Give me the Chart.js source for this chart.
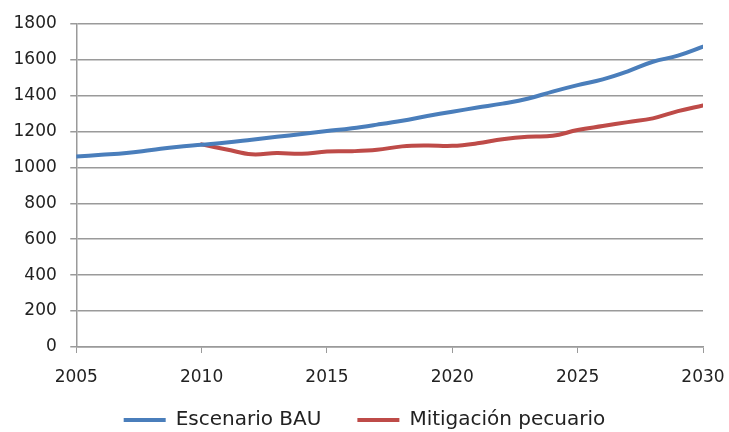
<!DOCTYPE html>
<html>
<head>
<meta charset="utf-8">
<script src="https://cdn.jsdelivr.net/npm/chart.js@4"></script>
<style>
  html, body { margin: 0; padding: 0; background: #fff; }
  #wrap { width: 729px; height: 432px; }
</style>
</head>
<body>
<div id="wrap"><canvas id="chart"></canvas></div>
<script>
const years = [2005, 2006, 2007, 2008, 2009, 2010, 2011, 2012, 2013, 2014, 2015, 2016, 2017,
  2018, 2019, 2020, 2021, 2022, 2023, 2024, 2025, 2026, 2027, 2028, 2029, 2030];
const bau = [1061, 1070, 1080, 1097, 1114, 1126, 1138, 1154, 1170, 1186, 1202, 1218, 1238,
  1260, 1286, 1310, 1333, 1355, 1382, 1422, 1458, 1490, 1535, 1588, 1622, 1672];
const mitigYears = [2010, 2011, 2012, 2013, 2014, 2015, 2016, 2017, 2018, 2019, 2020,
  2021, 2022, 2023, 2024, 2025, 2026, 2027, 2028, 2029, 2030];
const mitig = [1128, 1100, 1073, 1080, 1076, 1088, 1090, 1098, 1117, 1122, 1120,
  1134, 1157, 1171, 1176, 1208, 1230, 1252, 1273, 1313, 1345];
const yTicks = [0, 200, 400, 600, 800, 1000, 1200, 1400, 1600, 1800];
const xTicks = [2005, 2010, 2015, 2020, 2025, 2030];

const tickFont = { family: '"DejaVu Sans", sans-serif', size: 17 };
const legendFont = { family: '"DejaVu Sans", sans-serif', size: 20 };
const gray = '#9a9a9a';

new Chart(document.getElementById('chart'), {
  type: 'line',
  data: {
    datasets: [
      {
        label: 'Escenario BAU',
        data: years.map((y, i) => ({ x: y, y: bau[i] })),
        borderColor: '#4a7ebb',
        backgroundColor: '#4a7ebb',
        borderWidth: 4,
        pointRadius: 0,
        tension: 0.4,
        borderCapStyle: 'round'
      },
      {
        label: 'Mitigación pecuario',
        data: mitigYears.map((y, i) => ({ x: y, y: mitig[i] })),
        borderColor: '#be4b48',
        backgroundColor: '#be4b48',
        borderWidth: 4,
        pointRadius: 0,
        tension: 0.4,
        borderCapStyle: 'round'
      }
    ]
  },
  options: {
    responsive: true,
    maintainAspectRatio: false,
    animation: false,
    layout: { padding: { top: -3, right: 0, left: 0, bottom: -8 } },
    scales: {
      x: {
        type: 'linear',
        min: 2005,
        max: 2030,
        afterBuildTicks: axis => { axis.ticks = xTicks.map(v => ({ value: v })); },
        afterFit: axis => { axis.height = 47; axis.paddingLeft = 0; axis.paddingRight = 26; },
        ticks: { color: '#222', font: tickFont, padding: 14, callback: v => String(v) },
        grid: { drawOnChartArea: false, color: gray, tickLength: 6 },
        border: { color: gray, width: 1.5 }
      },
      y: {
        min: 0,
        max: 1800,
        afterBuildTicks: axis => { axis.ticks = yTicks.map(v => ({ value: v })); },
        ticks: { color: '#222', font: tickFont, padding: 13.5, callback: v => String(v) },
        grid: { color: gray, lineWidth: 1.5, tickLength: 6 },
        border: { color: gray, width: 1.5 }
      }
    },
    plugins: {
      legend: {
        position: 'bottom',
        labels: {
          color: '#222',
          font: legendFont,
          boxWidth: 42,
          boxHeight: 4,
          padding: 16,
          generateLabels: chart => {
            const items = Chart.defaults.plugins.legend.labels.generateLabels(chart);
            return items.map((l, i) => ({
              ...l,
              lineWidth: 0,
              text: i < items.length - 1 ? l.text + '\u2003' : l.text
            }));
          }
        }
      },
      tooltip: { enabled: false }
    }
  }
});
</script>
</body>
</html>
